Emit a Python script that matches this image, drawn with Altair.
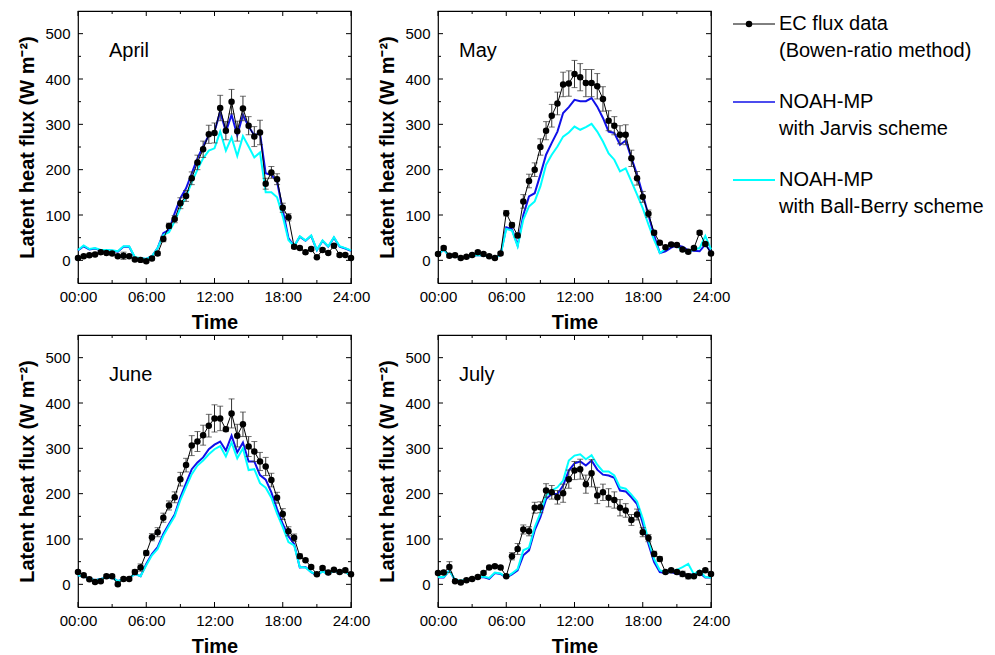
import altair as alt
import pandas as pd

hours = [i * 0.5 for i in range(49)]
month_names = ["April", "May", "June", "July"]
legend_line1 = ["EC flux data", "NOAH-MP", "NOAH-MP"]
legend_line2 = ["(Bowen-ratio method)", "with Jarvis scheme", "with Ball-Berry scheme"]
x_tick_major = [0, 6, 12, 18, 24]
x_tick_minor = [3, 9, 15, 21]
y_tick_major = [0, 100, 200, 300, 400, 500]
y_tick_minor = [50, 150, 250, 350, 450]

april_ec = [5, 9, 11, 13, 18, 16, 15, 9, 10, 9, 2, 1, -2, 4, 15, 47, 76, 91, 126, 142,
            181, 216, 245, 278, 281, 336, 286, 350, 285, 335, 297, 273, 282, 169, 194, 179, 116, 95, 30, 27,
            18, 25, 7, 23, 16, 32, 12, 12, 5]
april_err = [3, 3, 3, 3, 3, 3, 3, 3, 8, 3, 3, 3, 3, 3, 4, 6, 6, 8, 12, 12,
             14, 16, 18, 20, 22, 28, 20, 27, 22, 27, 20, 22, 27, 12, 13, 12, 10, 8, 4, 3,
             3, 3, 3, 3, 3, 3, 3, 3, 3]
april_jarvis = [22, 31, 24, 26, 22, 22, 21, 19, 30, 30, 6, 4, 3, 9, 27, 60, 67, 104, 137, 159,
                192, 225, 251, 276, 284, 328, 284, 321, 276, 321, 295, 276, 280, 192, 188, 174, 111, 49, 31, 52,
                43, 54, 22, 43, 30, 50, 30, 26, 21]
april_bb = [23, 33, 25, 27, 23, 23, 22, 20, 31, 31, 7, 5, 3, 9, 27, 56, 62, 86, 115, 141,
            172, 200, 225, 242, 247, 284, 242, 271, 230, 274, 251, 227, 238, 150, 150, 139, 97, 45, 31, 53,
            44, 55, 23, 44, 31, 51, 31, 27, 22]

may_ec = [14, 27, 10, 11, 5, 8, 12, 18, 14, 9, 5, 15, 104, 78, 55, 130, 175, 200, 250, 286,
          319, 346, 388, 390, 411, 404, 391, 391, 384, 356, 308, 297, 277, 277, 225, 181, 140, 103, 61, 39,
          29, 35, 34, 24, 19, 27, 61, 36, 15]
may_err = [3, 4, 3, 3, 3, 3, 3, 3, 3, 3, 3, 3, 6, 5, 5, 15, 15, 15, 18, 20,
           25, 25, 27, 28, 30, 30, 30, 30, 28, 27, 22, 20, 20, 22, 18, 15, 12, 8, 5, 3,
           3, 3, 3, 3, 3, 3, 4, 3, 3]
may_jarvis = [12, 24, 9, 9, 6, 7, 10, 12, 11, 8, 6, 12, 73, 69, 33, 100, 141, 148, 189, 233,
              259, 284, 325, 338, 354, 351, 351, 358, 339, 314, 284, 281, 255, 264, 226, 189, 145, 100, 55, 16,
              20, 28, 33, 30, 22, 21, 20, 35, 18]
may_bb = [12, 24, 9, 9, 6, 7, 10, 12, 11, 8, 6, 12, 69, 66, 31, 90, 119, 130, 163, 211,
          233, 251, 273, 282, 295, 288, 294, 301, 284, 262, 236, 222, 196, 203, 174, 145, 115, 79, 45, 16,
          25, 35, 31, 22, 18, 24, 27, 54, 24]

june_ec = [27, 20, 11, 5, 7, 18, 18, 0, 12, 12, 27, 37, 69, 104, 115, 147, 174, 192, 232, 263,
           306, 315, 329, 350, 366, 366, 342, 377, 328, 353, 304, 293, 271, 260, 230, 191, 155, 117, 103, 62,
           53, 38, 22, 36, 26, 32, 27, 31, 22]
june_err = [3, 3, 3, 3, 3, 3, 3, 3, 3, 3, 5, 8, 5, 8, 10, 10, 10, 12, 15, 15,
            22, 22, 22, 25, 30, 27, 5, 32, 25, 27, 22, 22, 20, 20, 15, 12, 12, 10, 8, 5,
            3, 3, 3, 3, 3, 3, 3, 3, 3]
june_jarvis = [20, 17, 13, 9, 12, 15, 15, 7, 12, 14, 23, 18, 45, 67, 82, 111, 133, 154, 192, 223,
               254, 269, 280, 298, 308, 315, 295, 328, 291, 313, 271, 271, 241, 231, 203, 166, 133, 106, 89, 37,
               38, 27, 20, 29, 22, 31, 25, 29, 18]
june_bb = [20, 17, 13, 9, 12, 15, 15, 7, 12, 14, 23, 18, 42, 64, 78, 107, 129, 150, 186, 215,
           243, 262, 273, 287, 298, 305, 282, 313, 278, 300, 252, 254, 223, 213, 191, 156, 126, 93, 86, 38,
           37, 27, 22, 28, 23, 30, 26, 28, 18]

july_ec = [25, 26, 38, 7, 4, 9, 12, 16, 25, 37, 40, 37, 18, 62, 78, 121, 117, 169, 170, 207,
           203, 192, 201, 232, 251, 254, 221, 245, 196, 203, 191, 186, 169, 163, 142, 154, 115, 102, 67, 56,
           27, 31, 27, 23, 18, 18, 25, 31, 23]
july_err = [3, 3, 12, 3, 3, 3, 3, 3, 3, 3, 3, 3, 3, 8, 12, 10, 10, 12, 12, 15,
            15, 15, 20, 20, 20, 22, 20, 30, 18, 18, 20, 18, 18, 15, 12, 12, 10, 8, 6, 5,
            3, 3, 3, 6, 6, 3, 3, 3, 3]
july_jarvis = [15, 15, 31, 9, 7, 9, 11, 15, 16, 12, 25, 23, 15, 22, 31, 64, 75, 119, 148, 188,
               199, 199, 218, 251, 267, 271, 262, 273, 253, 242, 240, 235, 207, 205, 192, 177, 135, 89, 49, 27,
               25, 27, 23, 22, 20, 22, 25, 15, 15]
july_bb = [16, 16, 30, 10, 8, 10, 12, 16, 17, 14, 26, 24, 16, 24, 34, 75, 81, 126, 157, 196,
           207, 214, 229, 273, 284, 287, 276, 285, 264, 249, 249, 240, 214, 211, 198, 183, 145, 97, 56, 31,
           27, 28, 32, 38, 45, 22, 31, 16, 15]

# ---------------- styles ----------------
W, H = 273, 272
FONT = "Liberation Sans"
C_EC = "#000000"
C_JAR = "#1010e8"
C_BB = "#00ffff"
MAJ, MIN = 5, 3

xs = alt.Scale(domain=[0, 24], nice=False, zero=False)
ys = alt.Scale(domain=[-50, 550], nice=False, zero=False)
x_axis = alt.Axis(values=x_tick_major,
                  labelExpr="(datum.value < 10 ? '0' : '') + datum.value + ':00'",
                  tickSize=0, domain=False, grid=False, title="Time",
                  labelPadding=6, titlePadding=8, labelFontSize=15, titleFontSize=20,
                  titleFontWeight="bold", labelFlush=False, labelColor="black",
                  titleColor="black", labelFont=FONT, titleFont=FONT)
y_axis = alt.Axis(values=y_tick_major, tickSize=0, domain=False, grid=False,
                  title="Latent heat flux (W m\u207b\u00b2)",
                  labelPadding=8, titlePadding=7, labelFontSize=15, titleFontSize=20,
                  titleFontWeight="bold", labelColor="black", titleColor="black",
                  labelFont=FONT, titleFont=FONT)


def X(f):
    return alt.X(f, type="quantitative", scale=xs, axis=x_axis)


def Y(f):
    return alt.Y(f, type="quantitative", scale=ys, axis=y_axis)


def tick_layers():
    layers = []
    for vals, size in ((x_tick_major, MAJ), (x_tick_minor, MIN)):
        d = pd.DataFrame({"v": vals})
        layers.append(alt.Chart(d).mark_rule(color="black", strokeWidth=1).encode(
            x=X("v"), y=alt.value(H), y2=alt.value(H - size)))
        layers.append(alt.Chart(d).mark_rule(color="black", strokeWidth=1).encode(
            x=X("v"), y=alt.value(0), y2=alt.value(size)))
    for vals, size in ((y_tick_major, MAJ), (y_tick_minor, MIN)):
        d = pd.DataFrame({"v": vals})
        layers.append(alt.Chart(d).mark_rule(color="black", strokeWidth=1).encode(
            y=Y("v"), x=alt.value(0), x2=alt.value(size)))
        layers.append(alt.Chart(d).mark_rule(color="black", strokeWidth=1).encode(
            y=Y("v"), x=alt.value(W), x2=alt.value(W - size)))
    return layers


def panel(month, ec, err, jar, bb, label_x):
    df = pd.DataFrame({
        "t": hours, "ec": ec, "jar": jar, "bb": bb,
        "lo": [v - e for v, e in zip(ec, err)],
        "hi": [v + e for v, e in zip(ec, err)],
    })
    base = alt.Chart(df)
    blue = base.mark_line(color=C_JAR, strokeWidth=2).encode(x=X("t"), y=Y("jar"))
    cyan = base.mark_line(color=C_BB, strokeWidth=2).encode(x=X("t"), y=Y("bb"))
    bars = base.mark_rule(color="#333333", strokeWidth=1).encode(
        x=X("t"), y=Y("lo"), y2=alt.Y2("hi"))
    cap_lo = base.mark_tick(color="#333333", orient="horizontal", size=6, thickness=1).encode(
        x=X("t"), y=Y("lo"))
    cap_hi = base.mark_tick(color="#333333", orient="horizontal", size=6, thickness=1).encode(
        x=X("t"), y=Y("hi"))
    line = base.mark_line(color=C_EC, strokeWidth=1).encode(x=X("t"), y=Y("ec"))
    pts = base.mark_circle(color=C_EC, size=42, opacity=1).encode(x=X("t"), y=Y("ec"))
    lab = alt.Chart(pd.DataFrame({"m": [month]})).mark_text(
        align="left", baseline="middle", fontSize=20, font=FONT, color="black").encode(
        text="m:N", x=alt.value(label_x), y=alt.value(40))
    return alt.layer(*tick_layers(), blue, cyan, bars, cap_lo, cap_hi, line, pts, lab).properties(
        width=W, height=H)


p_apr = panel(month_names[0], april_ec, april_err, april_jarvis, april_bb, 31)
p_may = panel(month_names[1], may_ec, may_err, may_jarvis, may_bb, 21)
p_jun = panel(month_names[2], june_ec, june_err, june_jarvis, june_bb, 31)
p_jul = panel(month_names[3], july_ec, july_err, july_jarvis, july_bb, 21)

# ---------------- legend ----------------
leg_df = pd.DataFrame({"k": [0, 1, 2], "line1": legend_line1, "line2": legend_line2})
ly = alt.Scale(type="point", domain=[0, 1, 2], range=[13, 169], padding=0)
leg_base = alt.Chart(leg_df)
leg_rule = leg_base.mark_rule().encode(
    x=alt.value(0), x2=alt.value(42),
    y=alt.Y("k:O", scale=ly, axis=None),
    color=alt.Color("k:O", scale=alt.Scale(domain=[0, 1, 2], range=[C_EC, C_JAR, C_BB]), legend=None),
    strokeWidth=alt.StrokeWidth("k:O", scale=alt.Scale(domain=[0, 1, 2], range=[1, 2, 2]), legend=None))
leg_pt = leg_base.transform_filter("datum.k == 0").mark_circle(color=C_EC, size=42, opacity=1).encode(
    x=alt.value(16), y=alt.Y("k:O", scale=ly, axis=None))
leg_t1 = leg_base.mark_text(align="left", baseline="middle", fontSize=20, font=FONT, color="black").encode(
    x=alt.value(46), y=alt.Y("k:O", scale=ly, axis=None), text="line1:N")
leg_t2 = leg_base.mark_text(align="left", baseline="middle", fontSize=20, font=FONT, color="black",
                            dy=27).encode(
    x=alt.value(46), y=alt.Y("k:O", scale=ly, axis=None), text="line2:N")
legend = alt.layer(leg_rule, leg_pt, leg_t1, leg_t2).properties(
    width=250, height=220, view=alt.ViewBackground(stroke="transparent"))

grid = alt.vconcat(alt.hconcat(p_apr, p_may, spacing=6),
                   alt.hconcat(p_jun, p_jul, spacing=6), spacing=0)
chart = alt.hconcat(grid, legend, spacing=0).properties(
    padding={"left": 9, "top": 1, "right": 0, "bottom": 0}
).configure(font=FONT).configure_view(stroke="black", strokeWidth=1.2)

chart.save("out.html", embed_options={"renderer": "svg", "actions": False})
